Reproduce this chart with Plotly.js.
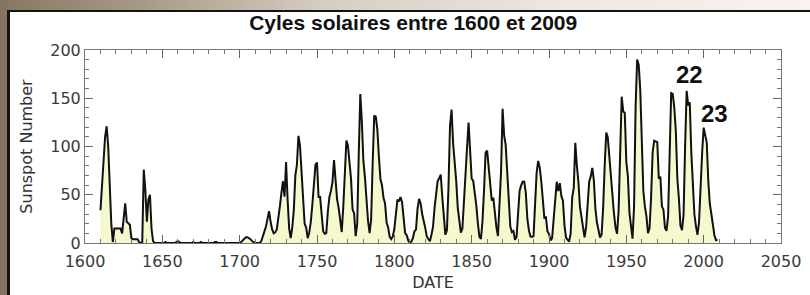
<!DOCTYPE html>
<html>
<head>
<meta charset="utf-8">
<script src="https://cdn.plot.ly/plotly-3.0.1.min.js"></script>
<style>
  html, body { margin: 0; padding: 0; background: #fff; }
  #wrap { position: relative; width: 810px; height: 295px; overflow: hidden; background: #fff; }
  #topband { position: absolute; left: 0; top: 0; width: 810px; height: 10px;
    background: linear-gradient(to right, #857760 0%, #a3957f 15%, #d6cdc2 40%, #eee8e3 70%, #f8f3f1 100%); }
  #leftband { position: absolute; left: 0; top: 0; width: 7px; height: 295px; background: #83755f; }
  #inner { position: absolute; left: 7px; top: 10px; width: 803px; height: 285px;
    border-left: 3px solid #141414; border-top: 2px solid #141414; background: #fff; }
  #plot { position: absolute; left: 0; top: 0; width: 800px; height: 283px; }
</style>
</head>
<body>
<div id="wrap">
  <div id="topband"></div>
  <div id="leftband"></div>
  <div id="inner"><div id="plot"></div></div>
</div>
<script>
// Early reconstructed record, yearly values starting 1610
const earlyStart = 1610;
const earlyValues = [
  34, 55, 85, 110, 121, 100, 60, 20, 1, 15,        // 1610-1619
  15, 15, 15, 15, 10, 28, 41, 22, 20, 19,          // 1620-1629
  5, 4, 4, 4, 4, 1, 0, 0, 76, 55,                  // 1630-1639
  22, 45, 50, 15, 2, 0, 0, 0, 0, 0,                // 1640-1649
  0, 0, 1, 0, 0, 0, 0, 0, 0, 1,                    // 1650-1659
  2, 1, 0, 0, 0, 0, 0, 0, 0, 0,                    // 1660-1669
  1, 0, 0, 0, 0, 1, 0, 0, 0, 0,                    // 1670-1679
  0, 0, 0, 0, 1, 1, 0, 0, 0, 0,                    // 1680-1689
  0, 0, 0, 0, 0, 0, 0, 0, 0, 0,                    // 1690-1699
  0, 1, 3, 5, 6, 6, 5, 4, 2, 1,                    // 1700-1709
  0, 0, 0, 0, 2, 6, 12, 17, 26, 33,                // 1710-1719
  22, 14, 10, 11, 14, 24, 38, 52, 64, 48,          // 1720-1729
  84, 45, 15, 5, 16, 34, 70, 81, 111, 101,         // 1730-1739
  73, 40, 20, 16, 5, 11, 22, 40, 60                // 1740-1748
];
// Yearly sunspot numbers from 1749 to 2009
const wolfStart = 1749;
const wolfValues = [
  80.9,                                                        // 1749
  83.4, 47.7, 47.8, 30.7, 12.2, 9.6, 10.2, 32.4, 47.6, 54.0,   // 1750s
  62.9, 85.9, 61.2, 45.1, 36.4, 20.9, 11.4, 37.8, 69.8, 106.1, // 1760s
  100.8, 81.6, 66.5, 34.8, 30.6, 7.0, 19.8, 92.5, 154.4, 125.9,// 1770s
  84.8, 68.1, 38.5, 22.8, 10.2, 24.1, 82.9, 132.0, 130.9, 118.1,
  89.9, 66.6, 60.0, 46.9, 41.0, 21.3, 16.0, 6.4, 4.1, 6.8,
  14.5, 34.0, 45.0, 43.1, 47.5, 42.2, 28.1, 10.1, 8.1, 2.5,
  0.0, 1.4, 5.0, 12.2, 13.9, 35.4, 45.8, 41.0, 30.1, 23.9,
  15.6, 6.6, 4.0, 1.8, 8.5, 16.6, 36.3, 49.6, 64.2, 67.0,
  70.9, 47.8, 27.5, 8.5, 13.2, 56.9, 121.5, 138.3, 103.2, 85.7,
  64.6, 36.7, 24.2, 10.7, 15.0, 40.1, 61.5, 98.5, 124.7, 96.3,
  66.6, 64.5, 54.1, 39.0, 20.6, 6.7, 4.3, 22.7, 54.8, 93.8,
  95.8, 77.2, 59.1, 44.0, 47.0, 30.5, 16.3, 7.3, 37.6, 74.0,
  139.0, 111.2, 101.6, 66.2, 44.7, 17.0, 11.3, 12.4, 3.4, 6.0,
  32.3, 54.3, 59.7, 63.7, 63.5, 52.2, 25.4, 13.1, 6.8, 6.3,
  7.1, 35.6, 73.0, 85.1, 78.0, 64.0, 41.8, 26.2, 26.7, 12.1,
  9.5, 2.7, 5.0, 24.4, 42.0, 63.5, 53.8, 62.0, 48.5, 43.9,
  18.6, 5.7, 3.6, 1.4, 9.6, 47.4, 57.1, 103.9, 80.6, 63.6,
  37.6, 26.1, 14.2, 5.8, 16.7, 44.3, 63.9, 69.0, 77.8, 64.9,
  35.7, 21.2, 11.1, 5.7, 8.7, 36.1, 79.7, 114.4, 109.6, 88.8,
  67.8, 47.5, 30.6, 16.3, 9.6, 33.2, 92.6, 151.6, 136.3, 134.7,
  83.9, 69.4, 31.5, 13.9, 4.4, 38.0, 141.7, 190.2, 184.8, 159.0,
  112.3, 53.9, 37.6, 27.9, 10.2, 15.1, 47.0, 93.8, 105.9, 105.5,
  104.5, 66.6, 68.9, 38.0, 34.5, 15.5, 12.6, 27.5, 92.5, 155.4,
  154.6, 140.4, 115.9, 66.6, 45.9, 17.9, 13.4, 29.4, 100.2, 157.6,
  142.6, 145.7, 94.3, 54.6, 29.9, 17.5, 8.6, 21.5, 64.3, 93.3,
  119.6, 111.0, 104.0, 63.7, 40.4, 29.8, 15.2, 7.5, 2.9, 3.1
];
const cycleLabels = ["22", "23"];
const cycleLabelYears = [1991, 2007];
const cycleLabelValues = [175, 134];
const titleText = "Cyles solaires entre 1600 et 2009";
const xTitle = "DATE";
const yTitle = "Sunspot Number";
const xRange = [1600, 2050];
const yRange = [0, 200];

const years = [], values = [];
earlyValues.forEach((v, i) => { years.push(earlyStart + i); values.push(v); });
wolfValues.forEach((v, i) => { years.push(wolfStart + i); values.push(v); });

const tickFont = { family: "DejaVu Sans, Verdana, sans-serif", size: 16, color: "#3a3a3a" };

const trace = {
  x: years, y: values, type: "scatter", mode: "lines",
  line: { color: "#111", width: 2 },
  fill: "tozeroy", fillcolor: "#f6f8cd",
  hoverinfo: "skip"
};

const axisCommon = {
  showgrid: false, zeroline: false, showline: true, linecolor: "#777", linewidth: 1,
  mirror: "allticks", ticks: "inside", ticklen: 8, tickwidth: 1, tickcolor: "#666",
  tickfont: tickFont
};

const layout = {
  width: 800, height: 283,
  margin: { l: 75, r: 29, t: 38, b: 52 },
  paper_bgcolor: "#fff", plot_bgcolor: "#fff",
  showlegend: false, hovermode: false,
  title: {
    text: "<b>" + titleText + "</b>",
    font: { family: "Liberation Sans, Arial, sans-serif", size: 21, color: "#111" },
    xref: "container", yref: "container", x: 0.504, y: 0.962, xanchor: "center", yanchor: "middle"
  },
  xaxis: Object.assign({}, axisCommon, {
    range: xRange, dtick: 50, tick0: 1600,
    ticklabelstandoff: 4,
    minor: { dtick: 10, ticklen: 4, ticks: "inside", tickcolor: "#777" },
    title: { text: xTitle, font: { family: "DejaVu Sans, sans-serif", size: 16, color: "#333" }, standoff: 6 }
  }),
  yaxis: Object.assign({}, axisCommon, {
    range: yRange, dtick: 50, tick0: 0,
    minor: { dtick: 10, ticklen: 4, ticks: "inside", tickcolor: "#777" },
    title: { text: yTitle, font: { family: "DejaVu Sans, sans-serif", size: 16, color: "#333" }, standoff: 13 }
  }),
  annotations: cycleLabels.map((t, i) => ({
    x: cycleLabelYears[i], y: cycleLabelValues[i], xref: "x", yref: "y",
    text: "<b>" + t + "</b>", showarrow: false,
    font: { family: "Liberation Sans, Arial, sans-serif", size: 24, color: "#111" }
  }))
};

Plotly.newPlot("plot", [trace], layout, { displayModeBar: false, staticPlot: true });
</script>
</body>
</html>
